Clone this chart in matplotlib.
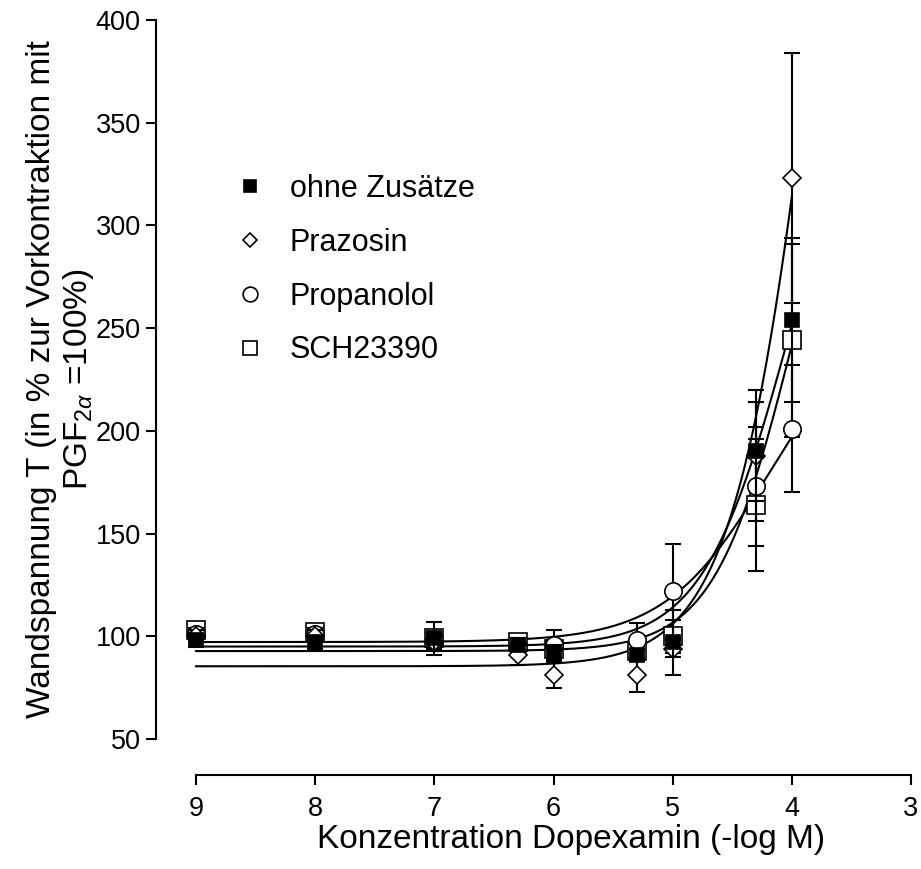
import numpy as np
import matplotlib
matplotlib.use("Agg")
import matplotlib.pyplot as plt

plt.rcParams['font.family'] = ['Liberation Sans', 'DejaVu Sans']
plt.rcParams['mathtext.fontset'] = 'custom'
plt.rcParams['mathtext.rm'] = 'Liberation Sans'
plt.rcParams['mathtext.it'] = 'Liberation Sans:italic'

# ---- data ----
conc = [9, 8, 7, 6.3, 6, 5.3, 5, 4.3, 4]
labels = ["ohne Zusätze", "Prazosin", "Propanolol", "SCH23390"]

ohne_mean = [98, 97, 99, 96, 92, 91, 97, 190, 254]
ohne_err = [3, 3, 8, 3, 4, 3, 16, 24, 40]
praz_mean = [100, 100, 97, 91, 81, 81, 94, 188, 323]
praz_err = [3, 3, 4, 5, 6, 8, 4, 32, 61]
prop_mean = [101, 101, 98, 95, 96, 98, 122, 173, 201]
prop_err = [3, 3, 4, 4, 7, 8.5, 23, 29, 31]
sch_mean = [103, 102, 99, 97, 94, 93, 100, 164, 244]
sch_err = [3, 3, 4, 3, 4, 4, 8, 32, 47]

# fitted sigmoidal curve parameters (bottom, top, x50, hill) per series
fit_bottom = [95.0, 85.4, 97.2, 92.8]
fit_top = [400, 800, 260, 400]
fit_x50 = [4.02, 3.727, 4.2, 3.98]
fit_hill = [1.2, 1.2, 1.0, 1.3]

xticks = [9, 8, 7, 6, 5, 4, 3]
yticks = [50, 100, 150, 200, 250, 300, 350, 400]

means = [ohne_mean, praz_mean, prop_mean, sch_mean]
errs = [ohne_err, praz_err, prop_err, sch_err]
markers = ['s', 'D', 'o', 's']
faces = ['black', 'white', 'white', 'white']
msizes = [9.5, 8.7, 12.5, 12.5]

W, H = 921, 869
fig = plt.figure(figsize=(W / 100, H / 100), dpi=100)
ax = fig.add_axes([196 / W, (H - 739) / H, (911 - 196) / W, (739 - 20) / H])
ax.set_xlim(9, 3)
ax.set_ylim(50, 400)

xs = np.linspace(9, 4, 400)
for i in range(4):
    b, t, x50, h = fit_bottom[i], fit_top[i], fit_x50[i], fit_hill[i]
    ys = b + (t - b) / (1 + 10 ** (h * (xs - x50)))
    ax.plot(xs, ys, color='black', lw=1.5, zorder=2, clip_on=False)

order = [3, 2, 1, 0]
handles = {}
for k, i in enumerate(order):
    ax.errorbar(conc, means[i], yerr=errs[i], fmt='none', ecolor='black',
                elinewidth=1.5, capsize=6, capthick=1.5, zorder=3 + k, clip_on=False)
    ln, = ax.plot(conc, means[i], linestyle='none', marker=markers[i],
                  markersize=msizes[i], markerfacecolor=faces[i],
                  markeredgecolor='black', markeredgewidth=1.2,
                  zorder=3.5 + k, clip_on=False, label=labels[i])
    handles[i] = ln

for s in ['top', 'right']:
    ax.spines[s].set_visible(False)
for s in ['left', 'bottom']:
    ax.spines[s].set_linewidth(1.5)
ax.spines['left'].set_position(('outward', 28.8))
ax.spines['bottom'].set_position(('outward', 25.9))
ax.set_xticks(xticks)
ax.set_yticks(yticks)
ax.set_xticklabels([str(v) for v in xticks])
ax.set_yticklabels([str(v) for v in yticks])
ax.tick_params(axis='both', direction='out', length=7, width=1.5,
               labelsize=19.5, colors='black')
ax.tick_params(axis='x', pad=8)
ax.tick_params(axis='y', pad=4)

ax.set_xlabel("Konzentration Dopexamin (-log M)", fontsize=24)
ax.xaxis.set_label_coords(0.524, -0.118)
ax.set_ylabel("Wandspannung T (in % zur Vorkontraktion mit\n"
              r"PGF$_{2\alpha}$ =100%)", fontsize=24, linespacing=1.15)
ax.yaxis.set_label_coords(-0.14, 0.5)

leg = ax.legend([handles[i] for i in range(4)], labels, loc='upper left',
                bbox_to_anchor=(235 / W, (H - 174) / H), bbox_transform=fig.transFigure,
                frameon=False, fontsize=22, markerscale=0.85, handlelength=1.0,
                handletextpad=0.8, labelspacing=0.78, borderpad=0, borderaxespad=0)

fig.savefig("out.png", dpi=100)
